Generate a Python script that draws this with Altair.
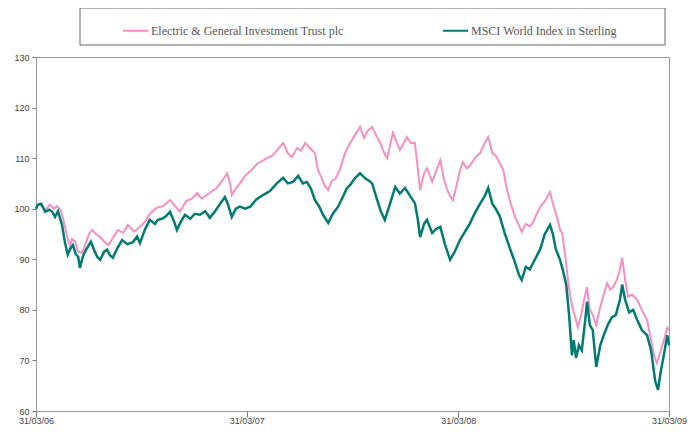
import altair as alt
import pandas as pd

# Days since 31/03/2006 and index values (rebased to 100)
egit_days = [0, 3, 10, 17, 24, 31, 36, 42, 47, 54, 59, 62, 68, 73, 80, 87, 92, 97, 104, 111,
             118, 125, 132, 142, 151, 159, 170, 180, 189, 197, 209, 220, 232, 241, 249, 260,
             270, 279, 287, 296, 305, 313, 322, 331, 336, 339, 346, 353, 362, 367, 376, 384,
             393, 400, 409, 417, 428, 436, 443, 452, 459, 466, 474, 483, 488, 495, 500, 506,
             512, 519, 526, 535, 544, 552, 561, 568, 575, 582, 589, 596, 603, 608, 613, 618,
             625, 630, 637, 642, 649, 656, 661, 665, 672, 677, 686, 693, 700, 706, 712, 717,
             722, 729, 734, 739, 746, 751, 760, 769, 777, 783, 790, 796, 803, 809, 815, 822,
             829, 835, 841, 848, 855, 860, 867, 874, 881, 890, 895, 902, 907, 911, 916, 921,
             925, 930, 935, 938, 944, 949, 954, 959, 964, 970, 977, 983, 989, 994, 999, 1006,
             1011, 1015, 1020, 1025, 1032, 1041, 1049, 1058, 1065, 1070, 1075, 1082, 1087,
             1093, 1096]
egit_vals = [100, 100.8, 100.5, 99.8, 100.8, 100, 100.5, 99.8, 98, 94.4, 92.5, 94, 93.5, 91.5,
             91.3, 93.5, 95, 95.8, 95, 94.4, 93.5, 92.8, 94, 95.8, 95.2, 96.8, 95.5, 96.4, 97.5,
             99, 100.2, 100.5, 101.7, 100.5, 99.4, 101.5, 102, 103.1, 102, 102.7, 103.5, 104.1,
             105.5, 107, 105, 102.7, 104, 105, 106.5, 107, 108, 109, 109.5, 110, 110.5, 111.5,
             113, 111, 110.2, 112, 111.5, 113, 112, 111, 107.7, 106, 104.5, 103.7, 105.5, 106,
             107.7, 111, 113, 114.5, 116.2, 114, 115.5, 116.2, 114.5, 113, 111, 110, 112.5, 115,
             113, 111.6, 113, 114.2, 113, 113, 108, 103.7, 107, 108, 105.3, 107.5, 109.6, 106,
             103.7, 102.5, 101.7, 105, 107.5, 109.2, 108, 108.5, 110, 111, 113, 114.2, 111,
             110.5, 109, 107.7, 104, 101, 98.5, 97, 95.4, 97, 96.5, 97.2, 99, 100.5, 101.5,
             103.3, 101, 98.4, 96, 95.2, 91, 86, 82.6, 80, 78, 76.6, 79, 82, 84.5, 80, 79, 77,
             80.6, 83, 85.3, 84, 84.5, 86, 88, 90.3, 86, 82.6, 83, 82, 80, 78, 74, 71, 69.5,
             72, 74, 76.5, 76]

msci_days = [0, 3, 9, 16, 23, 28, 33, 38, 45, 50, 55, 59, 64, 69, 73, 76, 81, 87, 90, 95, 100,
             106, 111, 118, 123, 128, 133, 140, 149, 158, 168, 175, 180, 189, 197, 206, 211, 218,
             225, 232, 239, 244, 251, 258, 267, 275, 284, 293, 301, 310, 319, 327, 332, 339, 346,
             353, 362, 371, 381, 393, 405, 417, 428, 436, 445, 454, 462, 469, 476, 483, 490, 497,
             506, 514, 523, 532, 538, 544, 552, 561, 570, 577, 582, 590, 597, 604, 613, 622, 630,
             639, 648, 656, 661, 665, 672, 677, 686, 693, 700, 708, 717, 725, 734, 743, 751, 760,
             769, 777, 783, 790, 796, 803, 812, 821, 829, 836, 841, 848, 855, 864, 873, 881, 890,
             895, 900, 907, 912, 918, 923, 928, 931, 935, 940, 945, 951, 954, 959, 964, 970, 977,
             983, 990, 997, 1004, 1011, 1015, 1020, 1027, 1034, 1041, 1049, 1058, 1065, 1072,
             1077, 1082, 1087, 1093, 1096]
msci_vals = [100, 100.8, 101, 99.4, 99.8, 99.4, 98.4, 99.5, 96.8, 93.4, 90.9, 92, 92.8, 91, 90.5,
             88.3, 90.5, 92, 92.5, 93.5, 92, 90.5, 89.9, 91.5, 91.9, 90.8, 90.3, 92, 93.8, 93,
             93.4, 94.5, 93.2, 96, 97.8, 97, 97.8, 98, 98.5, 99.4, 97.5, 95.8, 97.5, 98.8, 98,
             99, 98.8, 99.5, 98.2, 99.5, 101, 102.3, 101, 98.4, 100, 100.4, 100, 100.4, 101.8,
             102.7, 103.5, 105, 106.1, 105, 105.3, 106.5, 105, 105.3, 104, 101.7, 100.5, 98.8,
             97.2, 99, 100.4, 102.5, 104, 104.7, 106, 107, 106, 105.5, 105, 102, 99.5, 97.8, 101,
             104.3, 103, 104.1, 102.5, 101.1, 98, 94.4, 97, 97.8, 95.2, 96, 96.4, 93, 89.9, 91.5,
             93.8, 95.5, 97, 99.2, 101, 102.5, 104.1, 101, 100, 98.5, 95, 92, 89.5, 87, 85.9,
             88.5, 88, 90, 92, 95, 96.8, 95, 92, 90, 88, 85, 79, 71, 74, 70.5, 73, 72, 78, 81.6,
             77, 76, 68.7, 73, 75, 77, 78.5, 79, 82, 85, 82, 79.5, 80, 78, 76, 75, 72, 66, 64.2,
             68, 71, 75, 73]

series_names = ["Electric & General Investment Trust plc", "MSCI World Index in Sterling"]
series_colors = ["#F58FC3", "#007A73"]
tick_dates = [(2006, 3, 31), (2007, 3, 31), (2008, 3, 31), (2009, 3, 31)]

start = pd.Timestamp("2006-03-31")
def frame(days, vals, name):
    return pd.DataFrame({
        "date": [(start + pd.Timedelta(days=d)).strftime("%Y-%m-%d") for d in days],
        "value": vals,
        "series": name,
    })

df = pd.concat([frame(egit_days, egit_vals, series_names[0]),
                frame(msci_days, msci_vals, series_names[1])], ignore_index=True)

x_enc = alt.X("date:T",
              scale=alt.Scale(type="utc",
                              domain=[alt.DateTime(year=2006, month=3, date=31, utc=True),
                                      alt.DateTime(year=2009, month=3, date=31, utc=True)]),
              axis=alt.Axis(values=[alt.DateTime(year=y, month=m, date=d, utc=True) for y, m, d in tick_dates],
                            format="%d/%m/%y", title=None, grid=False, tickSize=6, tickOffset=0,
                            labelPadding=-1, domainColor="#999999", tickColor="#777777",
                            labelColor="#444444", labelFont="Liberation Sans", labelFontSize=9,
                            labelFlush=False))
y_enc = alt.Y("value:Q",
              scale=alt.Scale(domain=[60, 130], nice=False, zero=False),
              axis=alt.Axis(values=[60, 70, 80, 90, 100, 110, 120, 130], title=None, grid=False,
                            tickSize=4, labelPadding=3, domainColor="#999999", tickColor="#777777",
                            labelColor="#444444", labelFont="Liberation Sans", labelFontSize=9))
color_enc = alt.Color("series:N",
                      scale=alt.Scale(domain=series_names, range=series_colors),
                      legend=alt.Legend(orient="none", legendX=86, legendY=-40, direction="horizontal",
                                        title=None, symbolType="stroke", symbolSize=625,
                                        symbolStrokeWidth=2, columnPadding=95, labelOffset=2,
                                        labelFont="Liberation Serif", labelFontSize=12,
                                        labelColor="#555555", labelLimit=400, padding=0))

base = alt.Chart(df)
pink = base.transform_filter(alt.datum.series == series_names[0]).mark_line(
    strokeWidth=2, interpolate="linear").encode(x=x_enc, y=y_enc, color=color_enc)
teal = base.transform_filter(alt.datum.series == series_names[1]).mark_line(
    strokeWidth=2.5, interpolate="linear").encode(x=x_enc, y=y_enc, color=color_enc)

box = alt.Chart(pd.DataFrame({"k": [0]})).mark_rect(
    fill="white", stroke="#666666", strokeWidth=1).encode(
    x=alt.value(44), x2=alt.value(629), y=alt.value(-49), y2=alt.value(-12))

chart = alt.layer(box, pink, teal).properties(
    width=633, height=354,
    autosize=alt.AutoSizeParams(type="none"),
    padding={"left": 28, "top": 49, "right": 22, "bottom": 16},
    background="white",
).configure_view(stroke="#999999", strokeWidth=1)

chart.save("out.html", embed_options={"renderer": "svg", "actions": False})
